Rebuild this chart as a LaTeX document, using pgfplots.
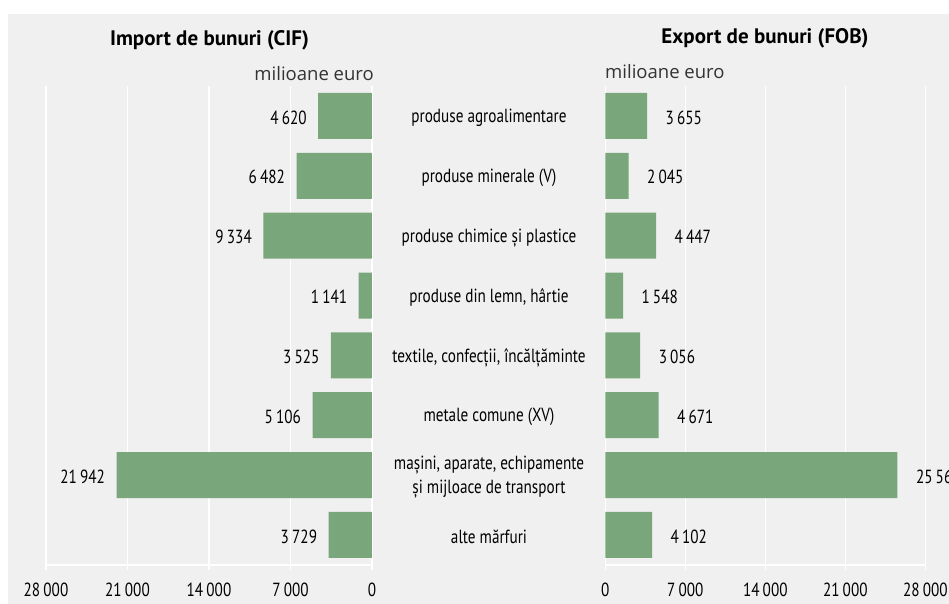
\documentclass[border=0pt]{standalone}
\usepackage{fontspec}
\setmainfont{PT Sans}[FakeStretch=0.8]
\newfontfamily\titlefont{PT Sans}
\newfontfamily\unitfont{Open Sans}
\usepackage{pgfplots}
\usepackage{pgfplotstable}
\pgfplotsset{compat=1.18}
\definecolor{bargreen}{HTML}{7AA67C}
\definecolor{bg}{HTML}{F0F0F0}

% y: rows from the bottom (0 = alte marfuri)
\pgfplotstableread{
y imp exp
7 4620 3655
6 6482 2045
5 9334 4447
4 1141 1548
3 3525 3056
2 5106 4671
1 21942 25564
0 3729 4102
}\trade

\newcommand\lbl{\fontsize{19}{24}\selectfont}

\pgfplotsset{
  half/.style={
    scale only axis, height=478.9pt,
    xbar, bar width=46pt,
    xmin=0, xmax=28000, ymin=-0.5, ymax=7.5,
    axis line style={draw=none},
    ytick=\empty,
    scaled x ticks=false,
    xtick={0,7000,14000,21000,28000},
    xticklabels={{0},{7\,000},{14\,000},{21\,000},{28\,000}},
    xtick pos=left,
    tick align=outside,
    major tick length=5pt,
    xtick style={white, line width=1.3pt},
    xmajorgrids, grid style={white, line width=1.3pt},
    ticklabel style={font=\lbl, text=black},
    xticklabel style={yshift=-10pt},
    /pgf/number format/assume math mode=true,
    /pgf/number format/1000 sep={\,},
    nodes near coords,
    nodes near coords style={font=\lbl, text=black},
    clip=false,
  }
}

\begin{document}
\begin{tikzpicture}
\useasboundingbox (0,0) rectangle (949pt,604pt);
\fill[white] (0,0) rectangle (949pt,604pt);
\fill[bg] (8pt,0) rectangle (949pt,590pt);

% import
\begin{axis}[half, at={(46pt,39.1pt)}, anchor=south west, width=326pt,
  x dir=reverse,
  every node near coord/.append style={anchor=east, xshift=-8pt, yshift=-1.5pt}]
  \addplot[fill=bargreen, draw=none] table[x=imp, y=y] {\trade};
  \draw[white, line width=1.3pt] (axis cs:0,-0.5) -- (axis cs:28000,-0.5);
  \begin{scope}[every node/.style={font=\lbl, align=center, xshift=117pt, yshift=-2pt}]
    \node at (axis cs:0,7) {produse agroalimentare};
    \node at (axis cs:0,6) {produse minerale (V)};
    \node at (axis cs:0,5) {produse chimice și plastice};
    \node at (axis cs:0,4) {produse din lemn, hârtie};
    \node at (axis cs:0,3) {textile, confecții, încălțăminte};
    \node at (axis cs:0,2) {metale comune (XV)};
    \node at (axis cs:0,1) {mașini, aparate, echipamente\\și mijloace de transport};
    \node at (axis cs:0,0) {alte mărfuri};
  \end{scope}
\end{axis}

% export
\begin{axis}[half, at={(605.3pt,39.1pt)}, anchor=south west, width=320pt,
  every node near coord/.append style={anchor=west, xshift=15pt, yshift=-1.5pt}]
  \addplot[fill=bargreen, draw=none] table[x=exp, y=y] {\trade};
  \draw[white, line width=1.3pt] (axis cs:0,-0.5) -- (axis cs:28000,-0.5);
\end{axis}

\node[font=\titlefont\bfseries\fontsize{21}{24}\selectfont] at (209.5pt,564pt) {Import de bunuri (CIF)};
\node[font=\titlefont\bfseries\fontsize{21}{24}\selectfont] at (765pt,566pt) {Export de bunuri (FOB)};
\node[font=\unitfont\fontsize{18.5}{20}\selectfont, text=black!80, anchor=east, inner sep=0pt] at (374pt,530pt) {milioane euro};
\node[font=\unitfont\fontsize{18.5}{20}\selectfont, text=black!80, anchor=west, inner sep=0pt] at (605pt,532pt) {milioane euro};
\end{tikzpicture}
\end{document}
